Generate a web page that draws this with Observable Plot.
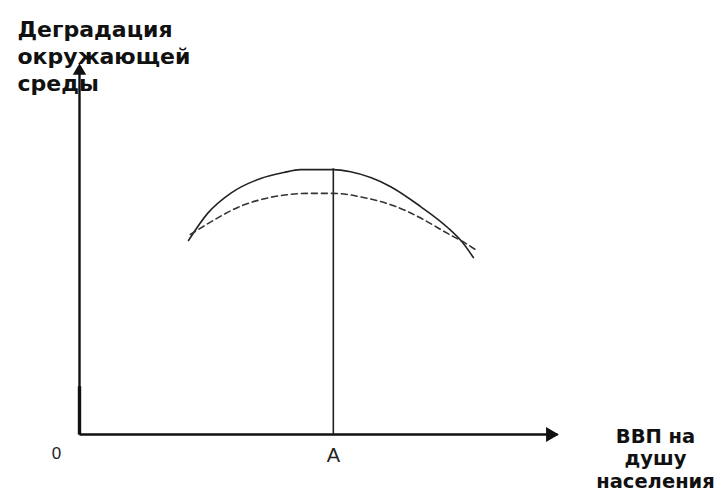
<!DOCTYPE html>
<html>
<head>
<meta charset="utf-8">
<script src="https://cdn.jsdelivr.net/npm/d3@7"></script>
<script src="https://cdn.jsdelivr.net/npm/@observablehq/plot@0.6"></script>
<style>
  html, body { margin: 0; padding: 0; background: #fff; }
  svg { display: block; }
</style>
</head>
<body>
<div id="chart"></div>
<script>
// Environmental Kuznets curve (schematic)
const solidX  = [22.8, 26.8, 31.6, 37.9, 42.7, 46.2, 53.1, 56.7, 65.1, 71.3, 77.0, 80.1, 82.4];
const solidY  = [52.3, 59.6, 65.0, 69.0, 70.6, 71.4, 71.4, 70.8, 66.8, 61.5, 55.8, 51.8, 47.7];
const dashedX = [23.2, 28.0, 33.1, 37.9, 42.1, 48.3, 53.1, 59.4, 66.5, 71.3, 77.0, 80.8, 83.1];
const dashedY = [53.9, 57.7, 61.2, 63.3, 64.4, 65.0, 65.0, 63.9, 61.3, 58.4, 54.2, 51.5, 49.6];
const pointA = 53.1;
const pointAPeak = 71.6;
const axisMax = 100;
const yTitle = "Деградация\nокружающей\nсреды";
const xTitle = "ВВП на\nдушу\nнаселения";
const originLabel = "0";
const pointLabel = "A";

const solid = solidX.map((x, i) => ({x, y: solidY[i]}));
const dashed = dashedX.map((x, i) => ({x, y: dashedY[i]}));

const chart = Plot.plot({
  width: 724,
  height: 494,
  margin: 0,
  x: {domain: [0, axisMax], range: [79, 557], axis: null},
  y: {domain: [0, axisMax], range: [434, 63], axis: null},
  style: {background: "#fff", fontFamily: "'Liberation Sans', Arial, sans-serif"},
  marks: [
    // axes
    Plot.link([{x1: 0, y1: 0, x2: axisMax, y2: 0}], {x1: "x1", y1: "y1", x2: "x2", y2: "y2", stroke: "#111", strokeWidth: 2.6}),
    Plot.link([{x1: 0, y1: 0, x2: 0, y2: axisMax - 2}], {x1: "x1", y1: "y1", x2: "x2", y2: "y2", stroke: "#111", strokeWidth: 2.4}),
    Plot.link([{x1: 0, y1: 0, x2: 0, y2: 13}], {x1: "x1", y1: "y1", x2: "x2", y2: "y2", stroke: "#111", strokeWidth: 3.4}),
    Plot.dot([{x: axisMax - 1.5, y: 0}], {x: "x", y: "y", symbol: "triangle", r: 5.5, fill: "#111", stroke: null, rotate: 90}),
    Plot.dot([{x: 0, y: axisMax - 2}], {x: "x", y: "y", symbol: "triangle", r: 5, fill: "#111", stroke: null}),
    // vertical line at A
    Plot.ruleX([pointA], {y1: 0, y2: pointAPeak, stroke: "#222", strokeWidth: 1.6}),
    // curves
    Plot.line(solid, {x: "x", y: "y", curve: "monotone-x", stroke: "#222", strokeWidth: 1.6}),
    Plot.line(dashed, {x: "x", y: "y", curve: "monotone-x", stroke: "#333", strokeWidth: 1.6, strokeDasharray: "6,4"}),
    // labels
    Plot.text([yTitle], {frameAnchor: "top-left", dx: 17, dy: 17, textAnchor: "start", lineAnchor: "top",
      fontSize: 22, fontWeight: "bold", lineHeight: 1.23, fill: "#111", fontFamily: "'DejaVu Sans', sans-serif"}),
    Plot.text([xTitle], {frameAnchor: "top-left", dx: 655, dy: 426, textAnchor: "middle", lineAnchor: "top",
      fontSize: 19.5, fontWeight: "bold", lineHeight: 1.16, fill: "#111", fontFamily: "'DejaVu Sans', sans-serif"}),
    Plot.text([originLabel], {frameAnchor: "top-left", dx: 56, dy: 446, textAnchor: "middle", lineAnchor: "top",
      fontSize: 17, fill: "#222"}),
    Plot.text([pointLabel], {x: pointA, frameAnchor: "top", dy: 447, textAnchor: "middle", lineAnchor: "top",
      fontSize: 20, fill: "#222"})
  ]
});
document.getElementById("chart").appendChild(chart);
</script>
</body>
</html>
